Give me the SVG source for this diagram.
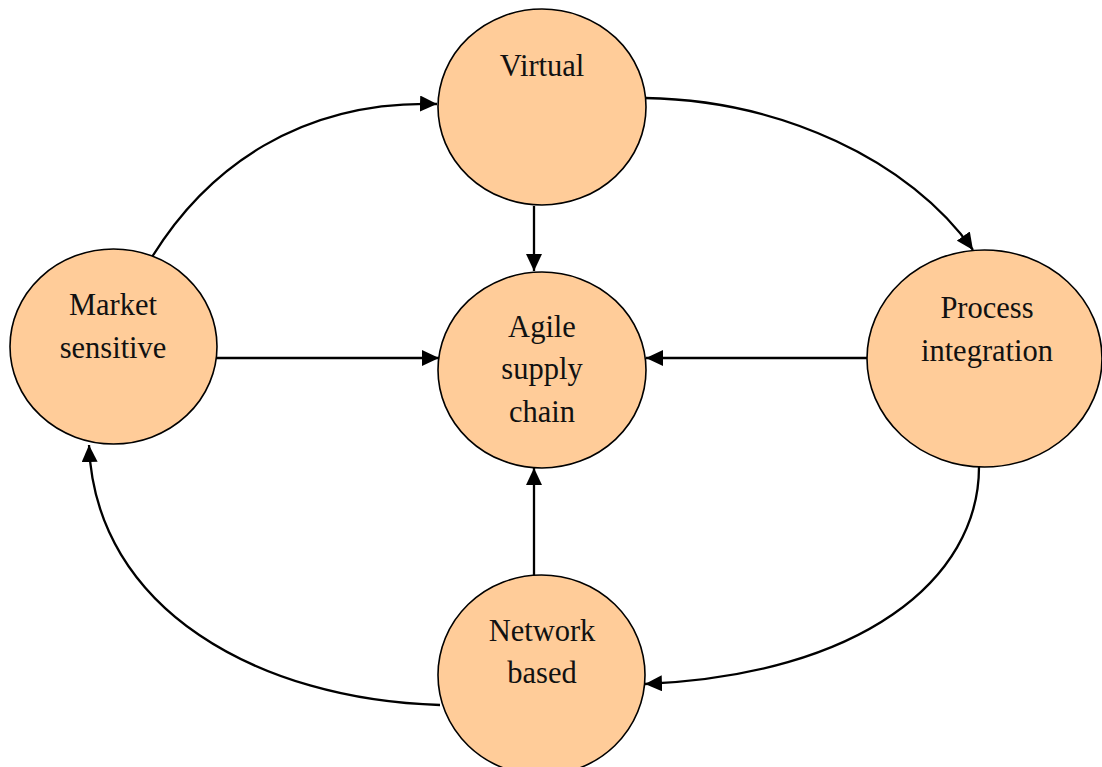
<svg xmlns="http://www.w3.org/2000/svg" width="1102" height="767" viewBox="0 0 1102 767">
  <style>
    .node { fill: #FFCC99; stroke: #000; stroke-width: 1.6; }
    .label { font-family: "Liberation Serif", "Times New Roman", serif; font-size: 30.5px; fill: #111; text-anchor: middle; }
    .edge { fill: none; stroke: #000; stroke-width: 2.3; marker-end: url(#arrow); }
  </style>
  <defs>
    <marker id="arrow" markerUnits="userSpaceOnUse" markerWidth="18" markerHeight="16" refX="17" refY="8" orient="auto">
      <path d="M0,0 L17,8 L0,16 Z" fill="#000"/>
    </marker>
  </defs>
  <rect width="1102" height="767" fill="#fff"/>

  <g id="connectors">
    <!-- straight spokes into the hub -->
    <line class="edge" x1="534" y1="206" x2="534" y2="271"/>
    <line class="edge" x1="216" y1="358" x2="439" y2="358"/>
    <line class="edge" x1="867" y1="358" x2="646" y2="358"/>
    <line class="edge" x1="534" y1="576" x2="534" y2="468"/>
    <!-- outer ring -->
    <path class="edge" d="M152,257 C207,168 300,100 437,104"/>
    <path class="edge" d="M645,98 C780,100 910,160 973,250"/>
    <path class="edge" d="M979,467 C979,580 860,675 645,684"/>
    <path class="edge" d="M440,705 C260,700 95,610 89,445"/>
  </g>

  <g id="virtual">
    <ellipse class="node" cx="542" cy="107" rx="104" ry="98"/>
    <text class="label" x="542" y="76">Virtual</text>
  </g>

  <g id="market-sensitive">
    <ellipse class="node" cx="113.5" cy="346.5" rx="103.5" ry="97.5"/>
    <text class="label" x="113" y="315">Market</text>
    <text class="label" x="113" y="358">sensitive</text>
  </g>

  <g id="agile-supply-chain">
    <ellipse class="node" cx="542" cy="370" rx="104" ry="98"/>
    <text class="label" x="542" y="337">Agile</text>
    <text class="label" x="542" y="379">supply</text>
    <text class="label" x="542" y="422">chain</text>
  </g>

  <g id="process-integration">
    <ellipse class="node" cx="984.5" cy="358.5" rx="117.5" ry="108.5"/>
    <text class="label" x="987" y="318">Process</text>
    <text class="label" x="987" y="361">integration</text>
  </g>

  <g id="network-based">
    <ellipse class="node" cx="541.5" cy="675" rx="103.5" ry="100"/>
    <text class="label" x="542" y="641">Network</text>
    <text class="label" x="542" y="683">based</text>
  </g>
</svg>
